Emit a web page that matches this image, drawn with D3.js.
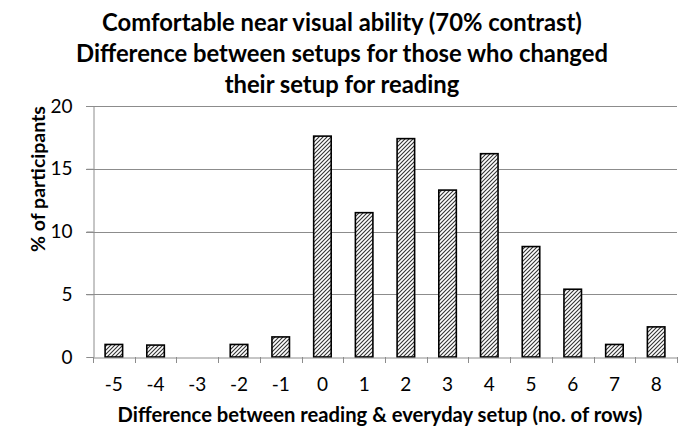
<!DOCTYPE html>
<html><head><meta charset="utf-8">
<script src="https://cdn.jsdelivr.net/npm/d3@7"></script>
<style>html,body{margin:0;padding:0;background:#fff;}svg{display:block;}</style>
</head><body>
<div id="chart"></div>
<script>
const categories = ["-5","-4","-3","-2","-1","0","1","2","3","4","5","6","7","8"];
const values = [1.0, 0.95, 0, 1.0, 1.6, 17.6, 11.5, 17.4, 13.3, 16.2, 8.8, 5.4, 1.0, 2.4];
const yTicks = [0, 5, 10, 15, 20];
const titleLines = ["Comfortable near visual ability (70% contrast)",
  "Difference between setups for those who changed",
  "their setup for reading"];
const xTitle = "Difference between reading & everyday setup (no. of rows)";
const yTitle = "% of participants";

const W = 683, H = 427;
const m = {left: 93, right: 6, top: 106, bottom: 70};
const font = "Lato, 'Open Sans', sans-serif";

const svg = d3.select("#chart").append("svg").attr("width", W).attr("height", H);
const defs = svg.append("defs");
const pat = defs.append("pattern").attr("id","hatch").attr("patternUnits","userSpaceOnUse")
  .attr("width",4).attr("height",4);
pat.append("rect").attr("width",4).attr("height",4).attr("fill","#fff");
pat.append("path").attr("d","M-1,1 l2,-2 M0,4 l4,-4 M3,5 l2,-2")
  .attr("stroke","#333").attr("stroke-width",1.1);

const x = d3.scaleBand().domain(categories).range([m.left, W - m.right]).paddingInner(0.58).paddingOuter(0.29);
const xb = d3.scaleBand().domain(categories).range([m.left, W - m.right]);
const y = d3.scaleLinear().domain([0, 20]).range([H - m.bottom, m.top]);

// gridlines
svg.append("g").selectAll("line").data(yTicks.filter(d => d > 0)).join("line")
  .attr("x1", m.left - 7).attr("x2", W - m.right)
  .attr("y1", d => Math.round(y(d)) + 0.5).attr("y2", d => Math.round(y(d)) + 0.5)
  .attr("stroke", "#8c8c8c").attr("stroke-width", 1);

// y axis
const yAxis = svg.append("g").attr("transform", `translate(${m.left + 0.5},0)`)
  .call(d3.axisLeft(y).tickValues(yTicks).tickSize(7).tickPadding(14));
yAxis.select(".domain").attr("stroke", "#8c8c8c");
yAxis.selectAll(".tick line").attr("stroke", "#8c8c8c");
yAxis.selectAll("text").attr("font-family", font).attr("font-size", 19).attr("fill", "#000");

// bars
svg.append("g").selectAll("rect").data(values).join("rect")
  .attr("x", (d, i) => x(categories[i]))
  .attr("width", x.bandwidth())
  .attr("y", d => y(d))
  .attr("height", d => y(0) - y(d))
  .attr("fill", "url(#hatch)")
  .attr("stroke", d => d > 0 ? "#000" : "none").attr("stroke-width", 1.6);

// x axis
const xAxis = svg.append("g").attr("transform", `translate(0,${Math.round(y(0)) + 0.5})`)
  .call(d3.axisBottom(xb).tickSize(0).tickPadding(20));
xAxis.select(".domain").attr("stroke", "#8c8c8c");
xAxis.selectAll("text").attr("font-family", font).attr("font-size", 19).attr("fill", "#000");
// band boundary ticks
svg.append("g").selectAll("line").data(d3.range(categories.length + 1)).join("line")
  .attr("x1", i => Math.round(m.left + i * xb.step()) + 0.5)
  .attr("x2", i => Math.round(m.left + i * xb.step()) + 0.5)
  .attr("y1", Math.round(y(0))).attr("y2", Math.round(y(0)) + 6)
  .attr("stroke", "#8c8c8c");

// titles
svg.append("g").selectAll("text").data(titleLines).join("text")
  .attr("x", 342).attr("y", (d, i) => 31 + i * 31)
  .attr("text-anchor", "middle").attr("font-family", font).attr("font-weight", "bold")
  .attr("font-size", 23.8).attr("fill", "#000").text(d => d);

svg.append("text").attr("x", 380).attr("y", 422).attr("text-anchor", "middle")
  .attr("font-family", font).attr("font-weight", "bold").attr("font-size", 20.2).attr("fill", "#000").text(xTitle);

svg.append("text").attr("transform", `translate(45,179) rotate(-90)`)
  .attr("text-anchor", "middle").attr("font-family", font).attr("font-weight", "bold")
  .attr("font-size", 19.5).attr("fill", "#000").text(yTitle);
</script>
</body></html>
